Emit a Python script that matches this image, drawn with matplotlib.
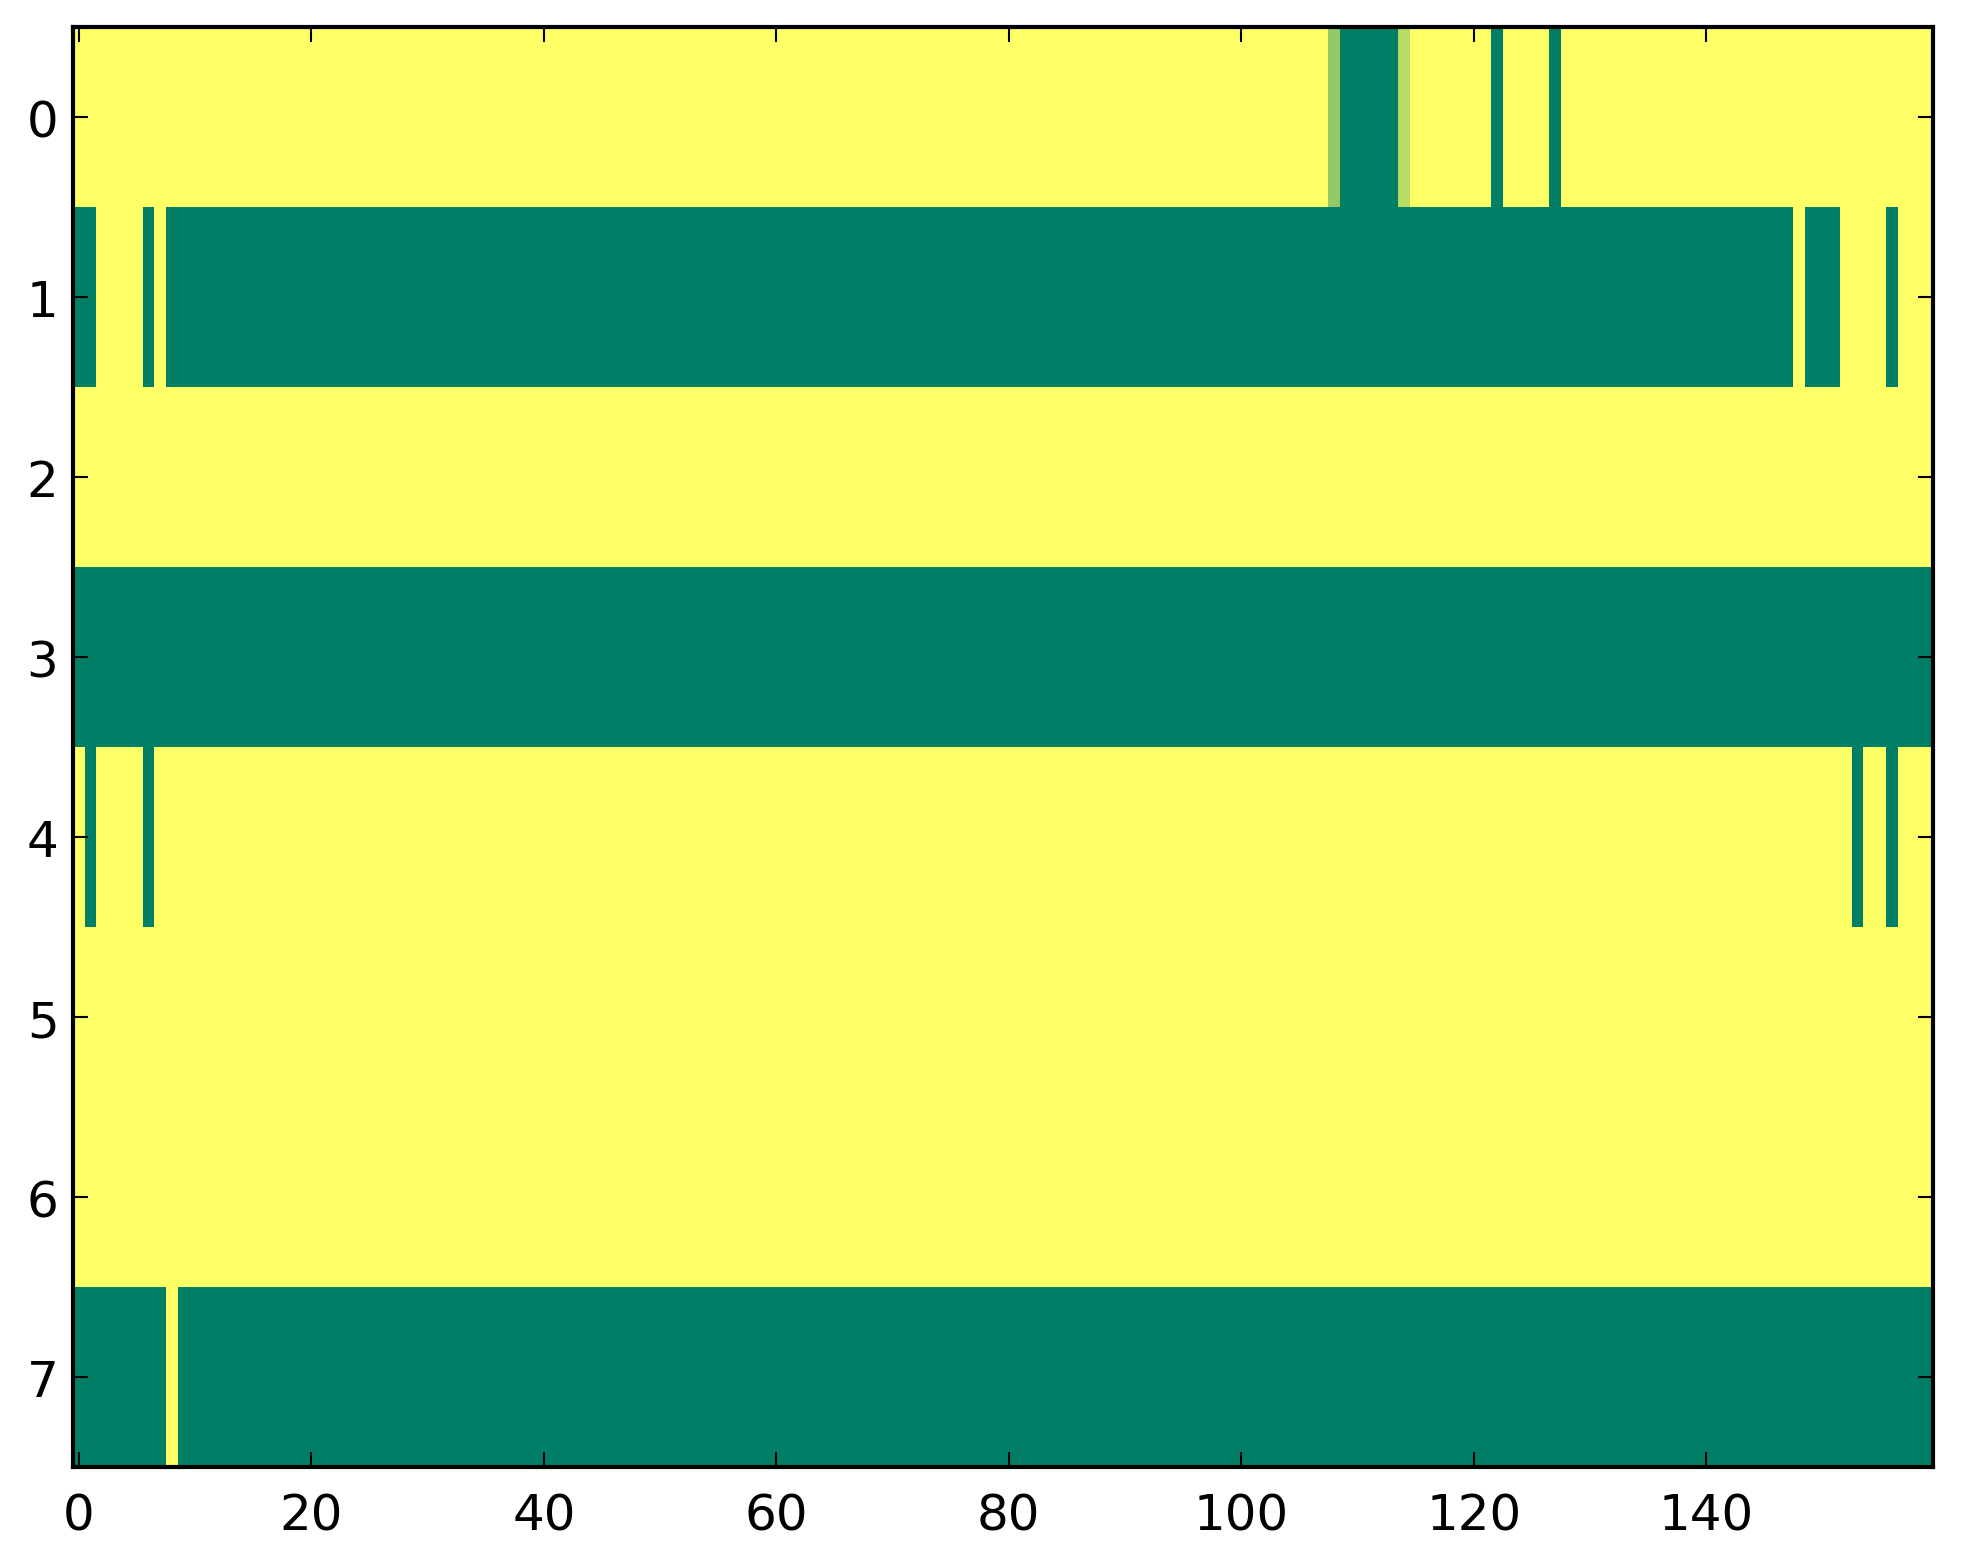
import numpy as np
import matplotlib
matplotlib.use("Agg")
import matplotlib.pyplot as plt

n_rows = 8
n_cols = 160

# columns at value 0 (dark green) in each row, everything else is 1 (yellow)
green_cols = {
    0: [109, 110, 111, 112, 113, 122, 127],
    1: [0, 1, 6] + list(range(8, 148)) + [149, 150, 151, 156],
    2: [],
    3: list(range(0, 160)),
    4: [1, 6, 153, 156],
    5: [],
    6: [],
    7: list(range(0, 8)) + list(range(9, 160)),
}
# in-between values (row, col, value)
mid_cells = [(0, 108, 0.58), (0, 114, 0.72)]

data = np.ones((n_rows, n_cols))
for r, cols in green_cols.items():
    data[r, cols] = 0.0
for r, c, v in mid_cells:
    data[r, c] = v

plt.rcParams['font.family'] = ['DejaVu Sans']
plt.rcParams['font.size'] = 12

fig = plt.figure(figsize=(1963 / 300, 1564 / 300), dpi=300)
ax = fig.add_axes([0.0372, 0.0614, 0.9475, 0.9206])
ax.imshow(data, cmap='summer', aspect='auto', interpolation='nearest')

ax.set_xticks(np.arange(0, 160, 20))
ax.set_yticks(np.arange(0, 8))
ax.tick_params(direction='in', top=True, right=True, length=3.5, width=0.5)
ax.tick_params(axis='x', pad=6)
ax.tick_params(axis='y', pad=3.5)
for s in ax.spines.values():
    s.set_linewidth(1.0)

fig.savefig("out.png", dpi=300)
